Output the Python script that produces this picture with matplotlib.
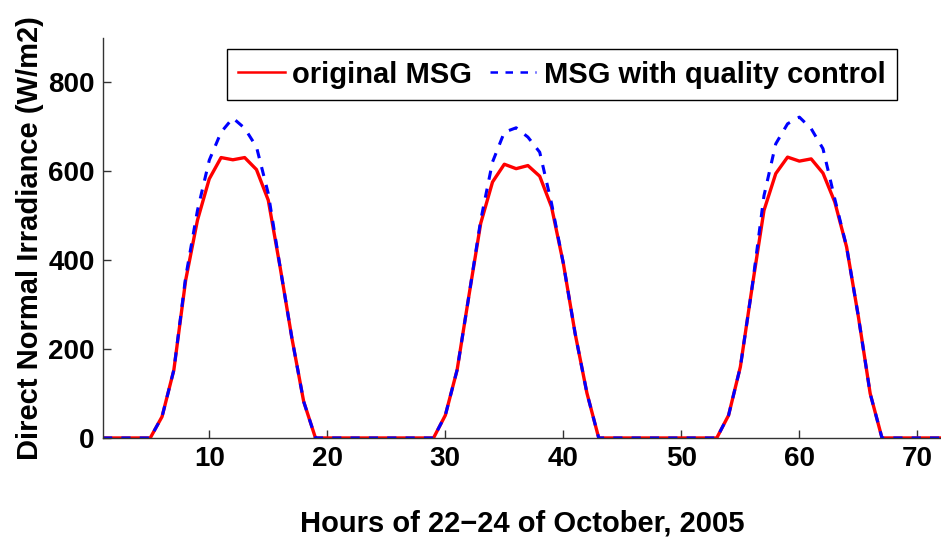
import matplotlib
matplotlib.use('Agg')
import matplotlib.pyplot as plt

plt.rcParams['font.family'] = ['Liberation Sans', 'DejaVu Sans']
plt.rcParams['font.weight'] = 'bold'

# Hourly values, 22-24 October 2005
hours = list(range(1, 73))

dni_original = [
    0, 0, 0, 0, 0, 48, 153, 355, 490, 583, 631, 626,
    631, 604, 535, 385, 225, 82, 0, 0, 0, 0, 0, 0,
    0, 0, 0, 0, 0, 51, 153, 320, 483, 576, 616, 606,
    613, 589, 520, 393, 235, 101, 0, 0, 0, 0, 0, 0,
    0, 0, 0, 0, 0, 51, 160, 340, 512, 595, 632, 623,
    628, 596, 531, 430, 273, 100, 0, 0, 0, 0, 0, 0,
]

dni_qc = [
    0, 0, 0, 0, 0, 48, 153, 362, 512, 625, 688, 720,
    697, 655, 550, 385, 225, 82, 0, 0, 0, 0, 0, 0,
    0, 0, 0, 0, 0, 51, 153, 320, 490, 621, 688, 698,
    677, 643, 528, 393, 235, 101, 0, 0, 0, 0, 0, 0,
    0, 0, 0, 0, 0, 51, 160, 340, 545, 662, 707, 722,
    696, 651, 538, 430, 273, 100, 0, 0, 0, 0, 0, 0,
]

fig = plt.figure(figsize=(9.41, 5.37), dpi=100)
ax = fig.add_axes([0.1095, 0.1844, 0.8905, 0.7448])

ax.plot(hours, dni_original, color='red', lw=2.4, label='original MSG')
ax.plot(hours, dni_qc, color='blue', lw=2.2, ls=(0, (3, 3)),
        label='MSG with quality control')

ax.set_xlim(1, 72)
ax.set_ylim(0, 900)
ax.set_xticks([10, 20, 30, 40, 50, 60, 70])
ax.set_yticks([0, 200, 400, 600, 800])

for side in ['top', 'right']:
    ax.spines[side].set_visible(False)
for side in ['left', 'bottom']:
    ax.spines[side].set_color('#333333')
    ax.spines[side].set_linewidth(1.0)

ax.tick_params(direction='in', length=6, width=1, colors='#333333',
               labelcolor='black', labelsize=20, pad=6)
for lbl in ax.get_xticklabels() + ax.get_yticklabels():
    lbl.set_fontweight('bold')

ax.set_xlabel('Hours of 22\u221224 of October, 2005', fontsize=21,
              fontweight='bold', labelpad=27)
ax.set_ylabel('Direct Normal Irradiance (W/m2)', fontsize=21,
              fontweight='bold', labelpad=3)

leg = ax.legend(loc='upper right', bbox_to_anchor=(0.9475, 0.9725), ncol=2,
                prop={'weight': 'bold', 'size': 21},
                fancybox=False, framealpha=1, edgecolor='black',
                handlelength=1.6, handletextpad=0.25, columnspacing=0.6,
                borderpad=0.4, borderaxespad=0)
leg.get_frame().set_linewidth(1.0)
for h in leg.get_lines():
    h.set_linewidth(1.8)

fig.savefig('out.png', dpi=100)
